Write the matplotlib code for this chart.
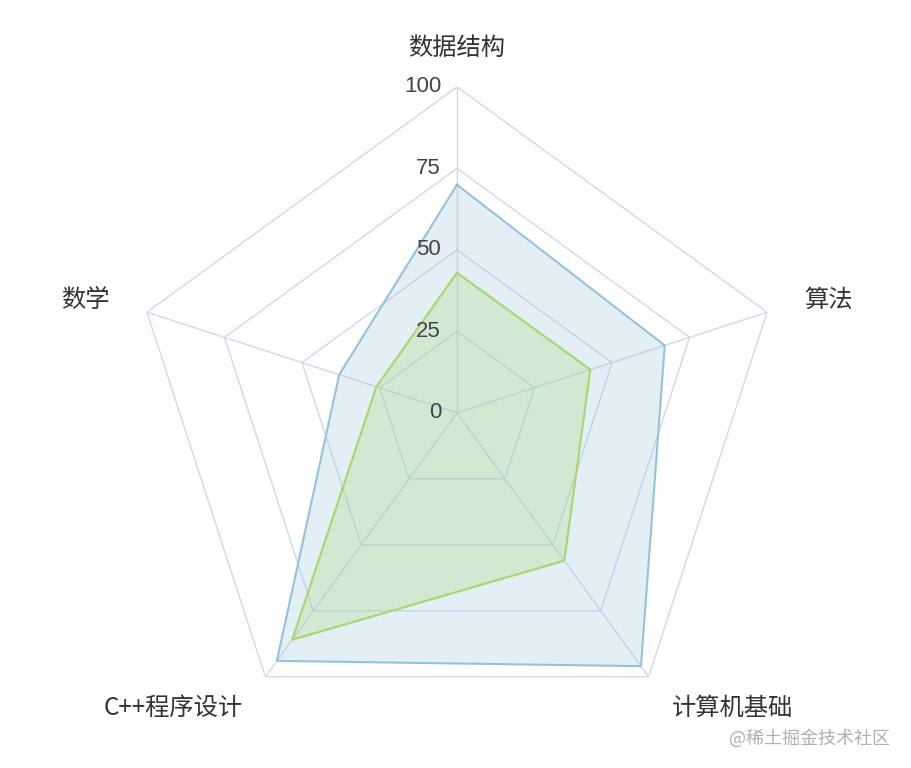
import matplotlib.pyplot as plt
import numpy as np
from matplotlib.transforms import offset_copy

plt.rcParams["font.family"] = ["Noto Sans CJK SC", "DejaVu Sans"]

# 科目和两组成绩
subjects = ["数据结构", "算法", "计算机基础", "C++程序设计", "数学"]
score_a = [70, 67, 96, 94, 38]
score_b = [43, 43, 56, 86, 26]
ticks = [0, 25, 50, 75, 100]
max_val = 100

label_align = ["center", "left", "left", "right", "right"]

n = len(subjects)
angles = np.linspace(0, 2 * np.pi, n, endpoint=False)
closed = np.append(angles, angles[0])

fig = plt.figure(figsize=(9.12, 7.68), dpi=100)
ax = fig.add_axes([0.1436, 0.0378, 0.715, 0.849], projection="polar")
ax.set_theta_offset(np.pi / 2)
ax.set_theta_direction(-1)
ax.set_ylim(0, max_val)
ax.grid(False)
ax.spines["polar"].set_visible(False)
ax.set_xticks([])
ax.set_yticks([])

grid_color = "#d2d6ee"
for t in ticks[1:]:
    ax.plot(closed, [t] * (n + 1), color=grid_color, lw=1, zorder=1)
for a in angles:
    ax.plot([a, a], [0, max_val], color=grid_color, lw=1, zorder=1)

blue = "#93c3db"
green = "#a5d76e"
ax.fill(closed, score_a + score_a[:1], color=blue, alpha=0.25, zorder=2, lw=0)
ax.plot(closed, score_a + score_a[:1], color=blue, lw=1.5, zorder=3)
ax.fill(closed, score_b + score_b[:1], color=green, alpha=0.25, zorder=2, lw=0)
ax.plot(closed, score_b + score_b[:1], color=green, lw=1.5, zorder=3)

# 刻度文字放在竖轴左侧
tick_tr = offset_copy(ax.transData, fig=fig, x=-16, y=0, units="dots")
for t in ticks:
    ax.text(0, t, str(t), transform=tick_tr, ha="right", va="center",
            fontsize=16, color="#444444", zorder=4,
            family=["Liberation Sans", "DejaVu Sans"])

for a, name, ha in zip(angles, subjects, label_align):
    ax.text(a, 112, name, ha=ha, va="center", fontsize=17.5, color="#333333")

fig.text(890 / 912, 30 / 768, "@稀土掘金技术社区", ha="right", va="center",
         fontsize=13, color="#b0b0b0")

fig.savefig("out.png", dpi=100)
